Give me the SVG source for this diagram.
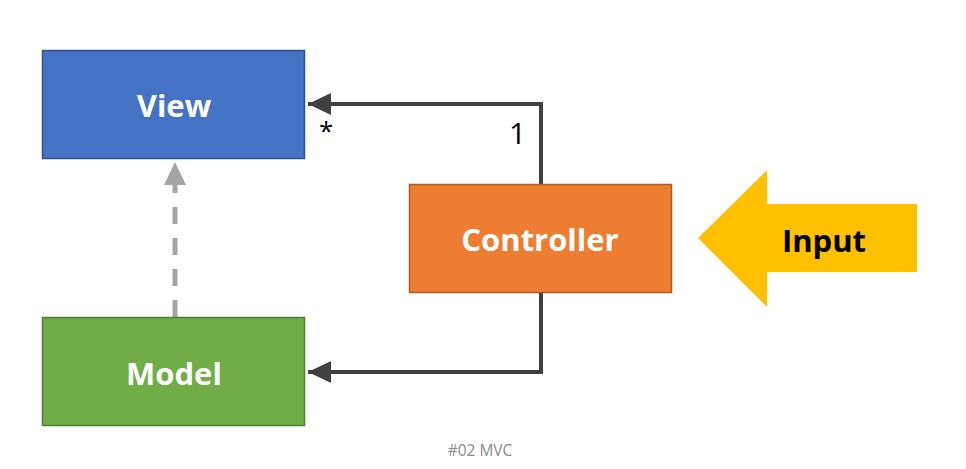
<svg xmlns="http://www.w3.org/2000/svg" width="966" height="469" viewBox="0 0 966 469">
<style>
.lbl{font-family:"Open Sans","Noto Sans","Liberation Sans",sans-serif;font-weight:bold;font-size:31px;text-anchor:middle;dominant-baseline:central}
.w{fill:#fff}
.mult{font-family:"Open Sans","Noto Sans","Liberation Sans",sans-serif;fill:#000}
.conn{fill:none;stroke:#404040;stroke-width:4}
</style>
<defs>
<marker id="ah" markerUnits="userSpaceOnUse" markerWidth="24" markerHeight="24" refX="23" refY="11" orient="auto">
<path d="M0,0 L23,11 L0,22 Z" fill="#404040"/>
</marker>
<marker id="ahg" markerUnits="userSpaceOnUse" markerWidth="24" markerHeight="24" refX="23" refY="11" orient="auto">
<path d="M0,0 L23,11 L0,22 Z" fill="#A5A5A5"/>
</marker>
</defs>
<rect width="966" height="469" fill="#fff"/>
<g id="connectors">
<path class="conn" d="M541,184 V104 H308" marker-end="url(#ah)"/>
<path class="conn" d="M541,292 V372 H308" marker-end="url(#ah)"/>
<path d="M175,317 V162" fill="none" stroke="#A5A5A5" stroke-width="5" stroke-dasharray="17,14" marker-end="url(#ahg)"/>
<text class="mult" x="319" y="140" font-size="26">*</text>
<text class="mult" x="509" y="144" font-size="30">1</text>
</g>
<g id="view">
<rect x="42.5" y="50.5" width="262" height="108" fill="#4472C4" stroke="#2F528F" stroke-width="1.5"/>
<text class="lbl w" x="174" y="105">View</text>
</g>
<g id="model">
<rect x="42.5" y="317.5" width="262" height="108" fill="#70AD47" stroke="#507E32" stroke-width="1.5"/>
<text class="lbl w" x="174" y="373">Model</text>
</g>
<g id="controller">
<rect x="409.5" y="184.5" width="262" height="108" fill="#ED7D31" stroke="#AE5A21" stroke-width="1.5"/>
<text class="lbl w" x="540" y="239">Controller</text>
</g>
<g id="input">
<polygon points="698,238 767,170 767,204 917,204 917,272 767,272 767,307" fill="#FFC000"/>
<text class="lbl" x="824" y="240" fill="#000">Input</text>
</g>
<text x="480" y="450" font-family="Open Sans,Noto Sans,Liberation Sans,sans-serif" font-size="15.5" fill="#8a8a8a" text-anchor="middle" dominant-baseline="central">#02 MVC</text>
</svg>
